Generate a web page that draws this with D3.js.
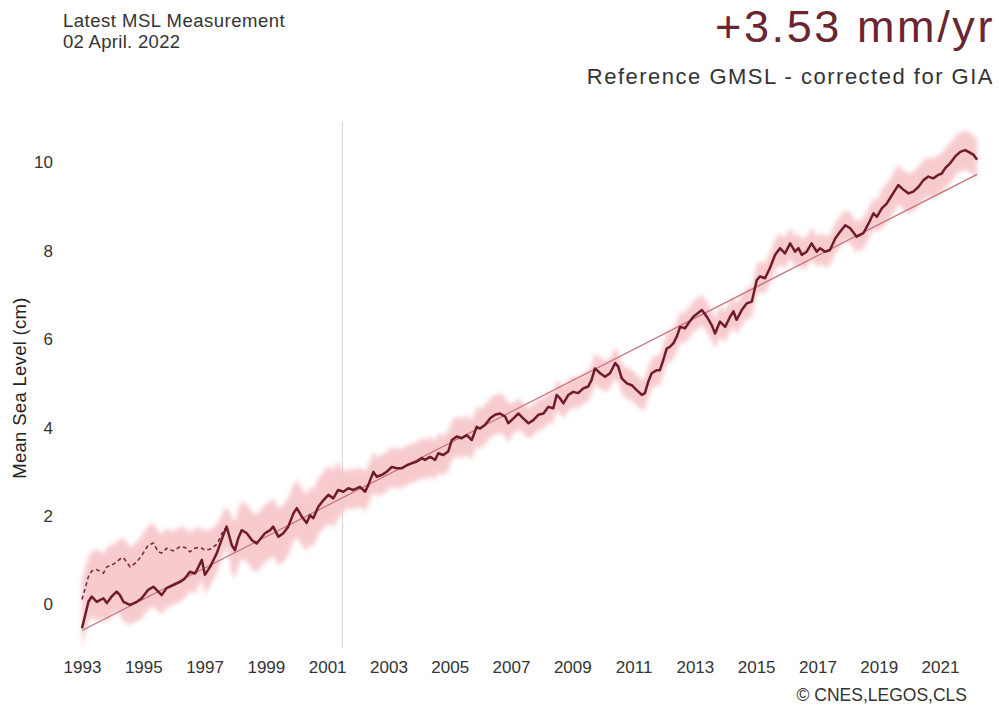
<!DOCTYPE html>
<html>
<head>
<meta charset="utf-8">
<script src="https://cdn.jsdelivr.net/npm/d3@7"></script>
<style>
    body { margin: 0; background: #fff; }
    svg { display: block; font-family: "Liberation Sans", Arial, sans-serif; }
</style>
</head>
<body>
<script>

// time of every sample (decimal years)
const years = [
    1993.00, 1993.21, 1993.32, 1993.48, 1993.70, 1993.81, 1993.97,
    1994.13, 1994.24, 1994.35, 1994.57, 1994.79, 1994.95,
    1995.16, 1995.33, 1995.49, 1995.60, 1995.76, 1995.98,
    1996.20, 1996.36, 1996.52, 1996.69, 1996.80, 1996.91,
    1997.01, 1997.18, 1997.40, 1997.61, 1997.72, 1997.89, 1997.99,
    1998.10, 1998.21, 1998.38, 1998.54, 1998.70, 1998.97,
    1999.14, 1999.24, 1999.41, 1999.57, 1999.73, 1999.90,
    2000.01, 2000.17, 2000.33, 2000.44, 2000.55, 2000.71, 2000.88,
    2001.04, 2001.20, 2001.36, 2001.53, 2001.69, 2001.85,
    2002.07, 2002.24, 2002.34, 2002.51, 2002.62, 2002.78, 2002.94,
    2003.11, 2003.27, 2003.43, 2003.60, 2003.76, 2003.92,
    2004.09, 2004.19, 2004.36, 2004.52, 2004.63, 2004.79, 2004.95,
    2005.07, 2005.23, 2005.39, 2005.56, 2005.72, 2005.88, 2005.99,
    2006.15, 2006.32, 2006.48, 2006.64, 2006.81, 2006.91,
    2007.08, 2007.24, 2007.40, 2007.57, 2007.73, 2007.89,
    2008.06, 2008.22, 2008.38, 2008.49, 2008.60, 2008.71, 2008.87,
    2009.03, 2009.19, 2009.36, 2009.52, 2009.63, 2009.74, 2009.91,
    2010.07, 2010.23, 2010.40, 2010.50, 2010.61, 2010.78, 2010.94,
    2011.10, 2011.27, 2011.37, 2011.48, 2011.59, 2011.76, 2011.86, 2011.97,
    2012.08, 2012.19, 2012.30, 2012.41, 2012.52, 2012.68, 2012.79, 2012.95,
    2013.23, 2013.39, 2013.55, 2013.66, 2013.82, 2013.99,
    2014.15, 2014.26, 2014.36, 2014.53, 2014.69, 2014.86,
    2015.02, 2015.13, 2015.29, 2015.45, 2015.62, 2015.78, 2015.94,
    2016.11, 2016.27, 2016.38, 2016.49, 2016.65, 2016.81, 2016.98,
    2017.09, 2017.25, 2017.41, 2017.58, 2017.74, 2017.91,
    2018.07, 2018.28, 2018.50, 2018.67, 2018.83, 2018.94,
    2019.10, 2019.26, 2019.37, 2019.54, 2019.64, 2019.81, 2019.97,
    2020.13, 2020.30, 2020.46, 2020.62, 2020.78, 2020.95,
    2021.06, 2021.17, 2021.33, 2021.49, 2021.66, 2021.82, 2021.93,
    2022.10, 2022.21
];

// reference GMSL (cm), corrected for GIA
const gmsl = [
    -0.55, 0.05, 0.17, 0.05, 0.13, 0.02, 0.17,
    0.28, 0.20, 0.05, -0.02, 0.05, 0.13,
    0.32, 0.39, 0.28, 0.20, 0.36, 0.43,
    0.50, 0.58, 0.73, 0.69, 0.84, 1.00,
    0.66, 0.84, 1.15, 1.56, 1.75, 1.33, 1.22,
    1.49, 1.67, 1.60, 1.45, 1.37, 1.60,
    1.67, 1.75, 1.52, 1.60, 1.75, 2.05,
    2.17, 1.98, 1.83, 2.01, 1.94, 2.20, 2.35,
    2.47, 2.39, 2.58, 2.54, 2.62, 2.58,
    2.65, 2.54, 2.69, 2.99, 2.88, 2.92, 2.99,
    3.10, 3.07, 3.07, 3.14, 3.18, 3.22,
    3.30, 3.26, 3.33, 3.26, 3.41, 3.37, 3.45,
    3.71, 3.79, 3.75, 3.82, 3.71, 4.01, 3.97,
    4.05, 4.20, 4.28, 4.31, 4.24, 4.09,
    4.20, 4.31, 4.20, 4.09, 4.16, 4.28,
    4.31, 4.46, 4.43, 4.73, 4.65, 4.54, 4.73,
    4.80, 4.77, 4.88, 4.92, 5.07, 5.33, 5.22,
    5.14, 5.22, 5.45, 5.37, 5.11, 4.99, 4.95,
    4.84, 4.73, 4.77, 5.03, 5.22, 5.29, 5.29, 5.52,
    5.78, 5.82, 5.90, 6.05, 6.27, 6.24, 6.35, 6.50,
    6.65, 6.50, 6.31, 6.12, 6.39, 6.27,
    6.50, 6.62, 6.43, 6.65, 6.80, 6.84,
    7.33, 7.41, 7.37, 7.60, 7.90, 8.05, 7.93,
    8.16, 7.97, 8.05, 7.90, 7.97, 8.16, 7.97,
    8.05, 7.97, 8.01, 8.27, 8.42, 8.57,
    8.50, 8.31, 8.39, 8.61, 8.84, 8.76,
    8.95, 9.06, 9.18, 9.37, 9.48, 9.37, 9.29,
    9.33, 9.44, 9.59, 9.67, 9.63, 9.71,
    9.74, 9.86, 9.97, 10.12, 10.23, 10.27, 10.23,
    10.16, 10.05
];

// dashed series (without TOPEX drift correction), same times as the first samples
const uncorrected = [
    0.10, 0.62, 0.75, 0.78, 0.70, 0.84, 0.88,
    0.95, 1.02, 1.05, 0.84, 0.95, 1.10,
    1.33, 1.38, 1.18, 1.15, 1.26, 1.20,
    1.30, 1.28, 1.18, 1.26, 1.28, 1.26,
    1.22, 1.24, 1.35, 1.65, 1.75
];

// half width of the uncertainty envelope (cm), per period
const errStart = [1993, 1997.75, 2001.5, 2007, 2013, 2019];
const errHalf = [0.45, 0.65, 0.45, 0.35, 0.35, 0.45];

// linear trend (+3.53 mm/yr)
const trendYears = [1993.0, 2022.21];
const trendValues = [-0.6, 9.72];

// satellite change (Jason-1)
const markerYear = 2001.5;

const xTicks = [1993, 1995, 1997, 1999, 2001, 2003, 2005, 2007, 2009, 2011, 2013, 2015, 2017, 2019, 2021];
const yTicks = [0, 2, 4, 6, 8, 10];

// --- svg ---
const width = 999;
const height = 706;

const svg = d3.select('body').append('svg')
    .attr('width', width)
    .attr('height', height);

// scales, tick labels sit at 1993 -> 82px and 2021 -> 940px
const xScale = d3.scaleLinear().domain([1993, 2021]).range([82, 940]);
const yScale = d3.scaleLinear().domain([0, 10]).range([604, 162]);

// blur for the fuzzy envelope
svg.append('defs').append('filter')
    .attr('id', 'soft')
    .attr('x', '-5%').attr('y', '-5%')
    .attr('width', '110%').attr('height', '110%')
    .append('feGaussianBlur')
    .attr('stdDeviation', 2.2);

// vertical marker line
svg.append('line')
    .attr('x1', xScale(markerYear)).attr('x2', xScale(markerYear))
    .attr('y1', 122).attr('y2', 648)
    .attr('stroke', '#d9d9d9')
    .attr('stroke-width', 1.2);

// envelope: around the solid line, and around the dashed one where it exists
function errAt(yr) {
    const i = d3.bisectRight(errStart, yr) - 1;
    return errHalf[Math.max(0, i)];
}

const band = years.map((yr, i) => {
    const other = i < uncorrected.length ? uncorrected[i] : gmsl[i];
    const e = errAt(yr);
    return { yr: yr, lo: Math.min(gmsl[i], other) - e, hi: Math.max(gmsl[i], other) + e };
});

svg.append('path')
    .datum(band)
    .attr('d', d3.area()
        .x(d => xScale(d.yr))
        .y0(d => yScale(d.lo))
        .y1(d => yScale(d.hi)))
    .attr('fill', '#f6c3c6')
    .attr('opacity', 0.85)
    .attr('filter', 'url(#soft)');

// trend line
svg.append('path')
    .datum(d3.zip(trendYears, trendValues))
    .attr('d', d3.line().x(d => xScale(d[0])).y(d => yScale(d[1])))
    .attr('fill', 'none')
    .attr('stroke', '#c27078')
    .attr('stroke-width', 1.2);

// dashed series
svg.append('path')
    .datum(uncorrected.map((v, i) => [years[i], v]))
    .attr('d', d3.line().x(d => xScale(d[0])).y(d => yScale(d[1])))
    .attr('fill', 'none')
    .attr('stroke', '#7a2a38')
    .attr('stroke-width', 1.6)
    .attr('stroke-dasharray', '4,3');

// main series
svg.append('path')
    .datum(d3.zip(years, gmsl))
    .attr('d', d3.line().x(d => xScale(d[0])).y(d => yScale(d[1])))
    .attr('fill', 'none')
    .attr('stroke', '#6e1c2c')
    .attr('stroke-width', 2.5)
    .attr('stroke-linejoin', 'round');

// axes, only the labels are shown
const xAxis = svg.append('g')
    .attr('transform', 'translate(0,658)')
    .call(d3.axisBottom(xScale).tickValues(xTicks).tickFormat(d3.format('d')).tickSize(0));
xAxis.select('.domain').remove();
xAxis.selectAll('text')
    .attr('font-size', 17)
    .attr('font-family', '"Liberation Sans", Arial, sans-serif')
    .attr('fill', '#333');

const yAxis = svg.append('g')
    .attr('transform', 'translate(56,0)')
    .call(d3.axisLeft(yScale).tickValues(yTicks).tickSize(0));
yAxis.select('.domain').remove();
yAxis.selectAll('text')
    .attr('dy', '0.35em')
    .attr('font-size', 17)
    .attr('font-family', '"Liberation Sans", Arial, sans-serif')
    .attr('fill', '#333');

svg.append('text')
    .attr('transform', 'translate(26,388) rotate(-90)')
    .attr('text-anchor', 'middle')
    .attr('font-size', 18.5)
    .attr('letter-spacing', 0.3)
    .attr('fill', '#222')
    .text('Mean Sea Level (cm)');

// header texts
svg.append('text')
    .attr('x', 63).attr('y', 27)
    .attr('font-size', 18.5)
    .attr('letter-spacing', 0.5)
    .attr('fill', '#333')
    .text('Latest MSL Measurement');

svg.append('text')
    .attr('x', 63).attr('y', 48)
    .attr('font-size', 18.5)
    .attr('letter-spacing', 0.3)
    .attr('fill', '#333')
    .text('02 April. 2022');

svg.append('text')
    .attr('x', 995).attr('y', 42)
    .attr('text-anchor', 'end')
    .attr('font-size', 45)
    .attr('letter-spacing', 2.6)
    .attr('fill', '#6b2530')
    .text('+3.53 mm/yr');

svg.append('text')
    .attr('x', 994).attr('y', 84)
    .attr('text-anchor', 'end')
    .attr('font-size', 22)
    .attr('letter-spacing', 1.5)
    .attr('fill', '#333')
    .text('Reference GMSL - corrected for GIA');

svg.append('text')
    .attr('x', 967).attr('y', 701)
    .attr('text-anchor', 'end')
    .attr('font-size', 17.5)
    .attr('fill', '#333')
    .text('© CNES,LEGOS,CLS');

</script>
</body>
</html>
